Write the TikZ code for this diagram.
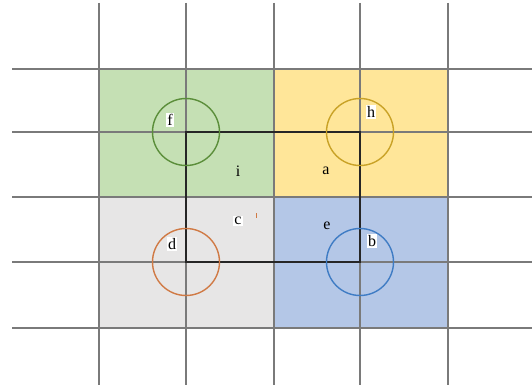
\documentclass[tikz,border=0pt]{standalone}
\usepackage{fontspec}
\setmainfont{Liberation Serif}
\definecolor{cgreen}{HTML}{C5E0B4}
\definecolor{cyellow}{HTML}{FFE699}
\definecolor{cgray}{HTML}{E7E6E6}
\definecolor{cblue}{HTML}{B4C7E7}
\definecolor{rgreen}{HTML}{5B8E3A}
\definecolor{ryellow}{HTML}{C9A227}
\definecolor{rorange}{HTML}{D07A45}
\definecolor{rblue}{HTML}{3F7CC4}
\definecolor{gridc}{HTML}{7A7A7A}
\begin{document}
\begin{tikzpicture}[x=1pt,y=-1pt,
  gridline/.style={draw=gridc,line width=1.5pt},
  ring/.style={line width=1.4pt},
  lab/.style={font=\fontsize{16}{18}\selectfont,inner sep=1pt},
  labw/.style={lab,fill=white}]
\useasboundingbox (0,0) rectangle (532,385);
\fill[white] (0,0) rectangle (532,385);
% coloured cells
\fill[cgreen] (99,69) rectangle (274,197);
\fill[cyellow] (274,69) rectangle (448,197);
\fill[cgray] (99,197) rectangle (274,328);
\fill[cblue] (274,197) rectangle (448,328);
% grid
\foreach \x in {99,186,274,360,448} \draw[gridline] (\x,3) -- (\x,385);
\foreach \y in {69,132,197,262,328} \draw[gridline] (12,\y) -- (532,\y);
% coordinates
\coordinate (F) at (186,132);
\coordinate (H) at (360,132);
\coordinate (D) at (186,262);
\coordinate (B) at (360,262);
% thick rectangle
\draw[line width=2pt,draw=black!85] (F) -- (H) -- (B) -- (D) -- cycle;
% circles
\draw[ring,rgreen] (F) circle (33.5);
\draw[ring,ryellow] (H) circle (33.5);
\draw[ring,rorange] (D) circle (33.5);
\draw[ring,rblue] (B) circle (33.5);
% labels
\node[labw] (lf) at (170,120) {f};
\node[labw] (lh) at (371,112) {h};
\node[lab] (li) at (238,171) {i};
\node[lab] (la) at (326,171) {a};
\node[labw] (lc) at (238,221) {c};
\node[lab] (le) at (327,226) {e};
\node[labw] (ld) at (172,244) {d};
\node[labw] (lb) at (372,241) {b};
\draw[rorange,line width=1pt] (256,213) -- (256,218);
\end{tikzpicture}
\end{document}
